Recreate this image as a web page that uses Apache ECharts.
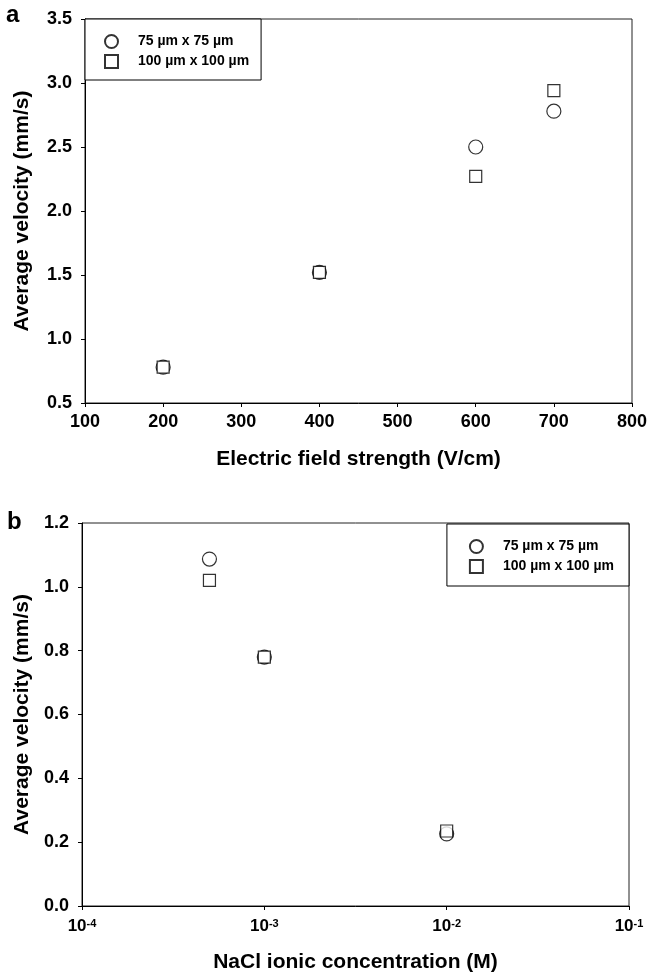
<!DOCTYPE html>
<html lang="en">
<head>
  <meta charset="UTF-8">
  <title>Average velocity</title>
  <style>
    html, body { margin: 0; padding: 0; background: #fff; }
    #main { width: 652px; height: 979px; }
  </style>
  <script src="https://cdn.jsdelivr.net/npm/echarts@6/dist/echarts.min.js"></script>
</head>
<body>
  <div id="main"></div>
  <script>
    // panel a: velocity vs electric field
    const fieldStrength = [200, 400, 600, 700];
    const velA75 = [0.78, 1.52, 2.50, 2.78];
    const velA100 = [0.78, 1.52, 2.27, 2.94];
    // panel b: velocity vs NaCl concentration
    const naclConc = [5e-4, 1e-3, 1e-2];
    const velB75 = [1.087, 0.78, 0.226];
    const velB100 = [1.02, 0.78, 0.235];

    const name75 = '75 µm x 75 µm';
    const name100 = '100 µm x 100 µm';
    const font = "'Liberation Sans', Arial, Helvetica, sans-serif";

    const chart = echarts.init(document.getElementById('main'), null, { renderer: 'canvas' });

    function zip(xs, ys) {
      return xs.map((x, i) => [x, ys[i]]);
    }

    const markerStyle = { color: '#fff', borderColor: '#000', borderWidth: 1.2 };
    const tickLabel = { color: '#000', fontSize: 18, fontWeight: 'bold', fontFamily: font };
    const nameStyle = { color: '#000', fontSize: 21, fontWeight: 'bold', fontFamily: font };
    const axisCommon = {
      axisLine: { show: true, lineStyle: { color: '#000', width: 1 } },
      axisTick: { show: true, inside: false, length: 4, lineStyle: { color: '#000' } },
      splitLine: { show: false },
      nameLocation: 'middle',
      nameTextStyle: nameStyle
    };
    const legendCommon = {
      orient: 'vertical',
      itemWidth: 13,
      itemHeight: 13,
      itemGap: 5,
      borderColor: '#000',
      borderWidth: 1,
      borderRadius: 0,
      backgroundColor: '#fff',
      textStyle: { color: '#000', fontSize: 14, fontWeight: 'bold', fontFamily: font, padding: [0, 0, 0, 15] },
      data: [name75, name100]
    };

    const option = {
      animation: false,
      backgroundColor: '#fff',
      title: [
        { text: 'a', left: 6, top: 3, padding: 0, textStyle: { fontSize: 24, fontWeight: 'bold', color: '#000', fontFamily: font } },
        { text: 'b', left: 7, top: 510, padding: 0, textStyle: { fontSize: 24, fontWeight: 'bold', color: '#000', fontFamily: font } }
      ],
      legend: [
        Object.assign({}, legendCommon, { left: 85, top: 19, padding: [15, 12, 11, 19] }),
        Object.assign({}, legendCommon, { right: 23, top: 524, padding: [15, 15, 12, 22] })
      ],
      grid: [
        { left: 85, top: 19, width: 547, height: 384, show: true, borderColor: '#222', borderWidth: 1 },
        { left: 82, top: 523, width: 547, height: 383, show: true, borderColor: '#222', borderWidth: 1 }
      ],
      xAxis: [
        Object.assign({}, axisCommon, {
          gridIndex: 0, type: 'value', min: 100, max: 800, interval: 100,
          name: 'Electric field strength (V/cm)', nameGap: 46,
          axisLabel: Object.assign({}, tickLabel, { margin: 10 })
        }),
        Object.assign({}, axisCommon, {
          gridIndex: 1, type: 'log', logBase: 10, min: 1e-4, max: 1e-1, interval: 1,
          name: 'NaCl ionic concentration (M)', nameGap: 46,
          axisLabel: {
            margin: 12,
            formatter: function (v) {
              const e = Math.round(Math.log10(v));
              return '{n|10}{e|' + e + '}';
            },
            rich: {
              n: { color: '#000', fontSize: 17, fontWeight: 'bold', fontFamily: font },
              e: { color: '#000', fontSize: 11, fontWeight: 'bold', fontFamily: font, verticalAlign: 'top', padding: [0, 0, 6, 0] }
            }
          }
        })
      ],
      yAxis: [
        Object.assign({}, axisCommon, {
          gridIndex: 0, type: 'value', min: 0.5, max: 3.5, interval: 0.5,
          name: 'Average velocity (mm/s)', nameGap: 52,
          axisLabel: Object.assign({}, tickLabel, { margin: 13, formatter: v => v.toFixed(1) })
        }),
        Object.assign({}, axisCommon, {
          gridIndex: 1, type: 'value', min: 0, max: 1.2, interval: 0.2,
          name: 'Average velocity (mm/s)', nameGap: 49,
          axisLabel: Object.assign({}, tickLabel, { margin: 13, formatter: v => v.toFixed(1) })
        })
      ],
      series: [
        { name: name75, type: 'scatter', xAxisIndex: 0, yAxisIndex: 0, symbol: 'circle', symbolSize: 14,
          itemStyle: markerStyle, data: zip(fieldStrength, velA75) },
        { name: name100, type: 'scatter', xAxisIndex: 0, yAxisIndex: 0, symbol: 'rect', symbolSize: 12,
          itemStyle: markerStyle, data: zip(fieldStrength, velA100) },
        { name: name75, type: 'scatter', xAxisIndex: 1, yAxisIndex: 1, symbol: 'circle', symbolSize: 14,
          itemStyle: markerStyle, data: zip(naclConc, velB75) },
        { name: name100, type: 'scatter', xAxisIndex: 1, yAxisIndex: 1, symbol: 'rect', symbolSize: 12,
          itemStyle: markerStyle, data: zip(naclConc, velB100) }
      ]
    };

    chart.setOption(option);
  </script>
</body>
</html>
